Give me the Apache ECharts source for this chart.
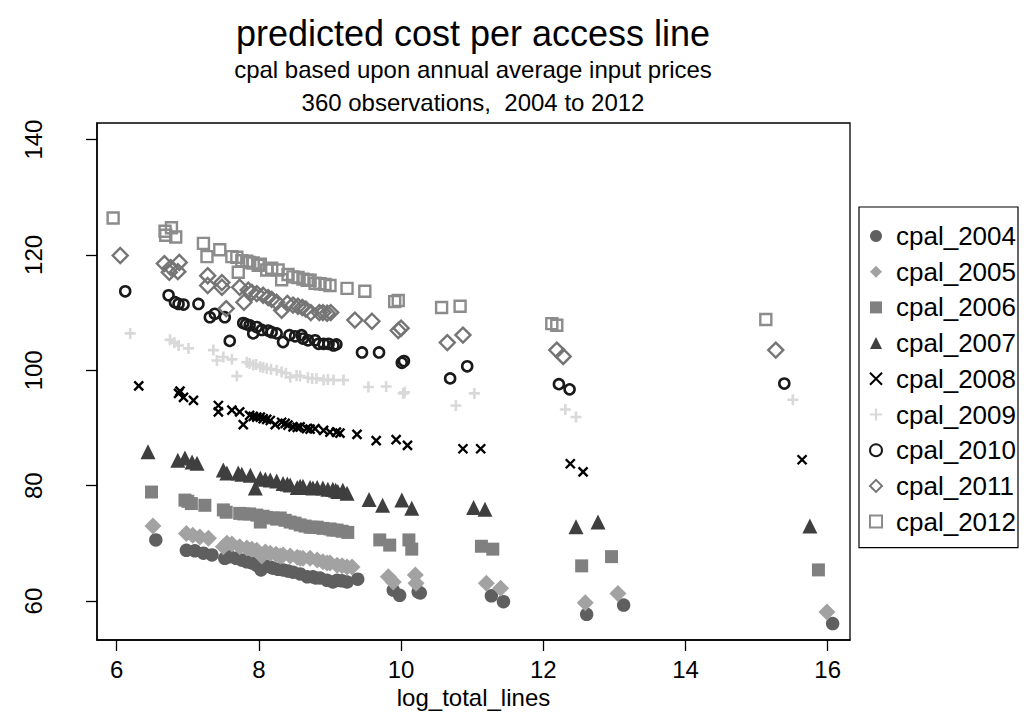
<!DOCTYPE html>
<html>
<head>
<meta charset="utf-8">
<script src="https://cdn.jsdelivr.net/npm/echarts@6/dist/echarts.min.js"></script>
<style>
html,body{margin:0;padding:0;background:#fff;}
#chart{width:1029px;height:717px;}
</style>
</head>
<body>
<div id="chart"></div>
<script>
// ---- Data (x = log_total_lines, y = predicted cost per access line) ----
const seriesNames = ['cpal_2004','cpal_2005','cpal_2006','cpal_2007','cpal_2008','cpal_2009','cpal_2010','cpal_2011','cpal_2012'];
const xTicks = [6, 8, 10, 12, 14, 16];
const yTicks = [60, 80, 100, 120, 140];

const cpal_2004 = [[6.55,70.6],[6.98,68.8],[7.10,68.7],[7.22,68.3],[7.34,68.0],[7.52,67.4],[7.59,67.7],[7.68,67.4],[7.76,67.1],[7.83,66.8],[7.90,66.6],[7.97,66.2],[8.03,65.4],[8.09,66.1],[8.16,65.9],[8.20,65.7],[8.27,65.5],[8.34,65.4],[8.41,65.2],[8.48,65.0],[8.58,64.7],[8.68,64.2],[8.76,64.2],[8.80,64.0],[8.86,64.0],[8.96,63.6],[9.04,63.3],[9.10,63.6],[9.17,63.5],[9.24,63.3],[9.39,63.8],[9.89,61.9],[9.98,61.0],[10.24,61.6],[10.27,61.4],[11.27,60.9],[11.44,59.9],[12.61,57.7],[13.13,59.3],[16.07,56.1]];
const cpal_2005 = [[6.51,73.0],[6.98,71.7],[7.07,71.4],[7.17,71.1],[7.29,70.9],[7.50,69.4],[7.55,70.0],[7.62,69.9],[7.73,69.4],[7.83,69.2],[7.90,69.0],[7.97,68.8],[8.04,67.8],[8.09,68.5],[8.16,68.3],[8.24,68.1],[8.30,67.8],[8.34,68.0],[8.44,67.8],[8.54,67.6],[8.58,67.4],[8.62,67.4],[8.72,67.4],[8.82,67.1],[8.90,66.8],[8.96,66.6],[9.00,66.6],[9.10,66.2],[9.17,66.1],[9.24,65.9],[9.31,65.9],[9.82,64.2],[9.89,63.3],[10.20,64.5],[10.21,63.1],[11.20,63.1],[11.40,62.2],[12.59,59.7],[13.05,61.3],[15.99,58.1]];
const cpal_2006 = [[6.49,78.9],[6.96,77.5],[7.00,77.3],[7.05,76.9],[7.24,76.6],[7.50,75.8],[7.54,75.4],[7.73,75.2],[7.79,75.1],[7.87,75.1],[7.97,74.9],[8.02,73.7],[8.06,74.7],[8.11,74.5],[8.20,74.4],[8.25,74.2],[8.30,74.4],[8.37,74.0],[8.44,73.7],[8.51,73.5],[8.58,73.2],[8.65,73.0],[8.72,72.8],[8.76,72.8],[8.82,72.8],[8.90,72.6],[9.00,72.5],[9.04,72.3],[9.10,72.3],[9.17,72.1],[9.25,71.9],[9.70,70.6],[9.84,69.7],[10.11,70.6],[10.15,69.0],[11.13,69.5],[11.29,69.0],[12.54,66.1],[12.96,67.7],[15.87,65.4]];
const cpal_2007 = [[6.44,85.9],[6.86,84.4],[6.96,84.8],[7.06,84.1],[7.13,83.9],[7.50,82.7],[7.55,82.2],[7.71,82.2],[7.76,82.0],[7.88,81.8],[7.95,79.6],[8.02,81.3],[8.09,81.1],[8.16,81.0],[8.25,80.8],[8.34,80.4],[8.40,80.3],[8.44,80.1],[8.54,79.7],[8.58,79.9],[8.62,79.9],[8.72,79.7],[8.76,79.6],[8.82,79.7],[8.90,79.6],[8.97,79.4],[9.04,79.4],[9.08,79.2],[9.11,79.0],[9.18,79.2],[9.24,78.7],[9.55,77.6],[9.74,76.6],[10.01,77.5],[10.15,76.1],[11.02,76.2],[11.18,75.9],[12.46,72.9],[12.77,73.7],[15.75,73.0]];
const cpal_2008 = [[6.31,97.3],[6.87,96.0],[6.89,96.4],[6.94,95.3],[7.08,94.8],[7.43,93.9],[7.43,92.8],[7.62,93.1],[7.73,92.8],[7.78,90.6],[7.87,92.2],[7.92,92.0],[7.97,91.9],[8.02,91.9],[8.06,91.6],[8.11,91.5],[8.16,91.3],[8.23,90.6],[8.32,91.0],[8.37,90.8],[8.41,90.5],[8.48,90.2],[8.54,90.1],[8.58,90.2],[8.67,89.9],[8.72,89.8],[8.79,89.9],[8.91,89.6],[9.00,89.3],[9.09,89.3],[9.14,89.1],[9.38,88.9],[9.65,87.8],[9.93,88.0],[10.09,87.0],[10.87,86.4],[11.12,86.4],[12.38,83.8],[12.56,82.4],[15.64,84.5]];
const cpal_2009 = [[6.19,106.4],[6.75,105.3],[6.81,104.8],[6.87,104.3],[7.01,103.8],[7.36,103.5],[7.41,101.7],[7.50,102.3],[7.62,101.9],[7.69,99.0],[7.83,101.4],[7.87,101.2],[7.92,100.9],[7.96,101.0],[8.02,100.6],[8.06,100.5],[8.11,100.3],[8.17,100.2],[8.25,100.0],[8.32,99.7],[8.38,99.5],[8.44,98.8],[8.53,99.1],[8.58,99.0],[8.69,98.7],[8.75,98.6],[8.81,98.6],[8.91,98.3],[8.97,98.4],[9.05,98.3],[9.19,98.3],[9.54,97.1],[9.79,97.2],[10.03,96.0],[10.05,96.2],[10.77,93.9],[11.03,96.0],[12.31,93.2],[12.46,91.9],[15.51,94.9]];
const cpal_2010 = [[6.12,113.7],[6.73,113.0],[6.82,111.8],[6.87,111.5],[6.94,111.4],[7.15,111.5],[7.31,109.2],[7.38,109.8],[7.52,109.2],[7.59,105.1],[7.78,108.2],[7.82,108.0],[7.87,107.8],[7.92,106.4],[7.97,107.5],[8.04,107.0],[8.13,106.9],[8.18,106.6],[8.25,106.4],[8.34,104.9],[8.43,106.1],[8.51,105.9],[8.60,106.1],[8.62,105.5],[8.69,105.2],[8.79,105.2],[8.84,104.6],[8.91,104.6],[8.98,104.6],[9.05,104.3],[9.09,104.5],[9.45,103.1],[9.69,103.1],[10.01,101.3],[10.04,101.6],[10.69,98.6],[10.93,100.7],[12.22,97.6],[12.37,96.7],[15.39,97.7]];
const cpal_2011 = [[6.05,119.9],[6.67,118.5],[6.76,117.8],[6.88,118.7],[6.86,117.1],[6.74,117.0],[7.28,116.4],[7.28,114.7],[7.48,115.2],[7.48,114.4],[7.54,110.7],[7.73,114.4],[7.79,111.8],[7.85,113.9],[7.90,113.5],[7.97,113.3],[8.06,113.0],[8.13,112.6],[8.18,112.3],[8.25,111.8],[8.32,110.4],[8.40,111.6],[8.48,111.3],[8.55,111.1],[8.61,110.9],[8.66,110.6],[8.73,110.0],[8.85,110.0],[8.90,110.0],[8.96,109.9],[9.01,110.0],[9.35,108.7],[9.59,108.5],[9.96,106.9],[10.00,107.3],[10.65,104.8],[10.87,106.1],[12.19,103.5],[12.28,102.4],[15.27,103.5]];
const cpal_2012 = [[5.95,126.4],[6.68,124.1],[6.77,124.7],[6.83,123.1],[6.69,123.4],[7.22,122.0],[7.27,119.7],[7.45,120.9],[7.62,119.7],[7.69,119.6],[7.71,117.0],[7.76,119.0],[7.83,118.9],[7.87,118.7],[7.92,118.6],[7.99,118.2],[8.02,118.4],[8.11,117.4],[8.18,117.7],[8.27,117.4],[8.32,115.7],[8.41,116.6],[8.48,116.2],[8.55,116.1],[8.62,115.8],[8.68,115.6],[8.72,115.6],[8.79,115.1],[8.86,115.0],[8.93,114.9],[9.00,114.7],[9.24,114.2],[9.49,113.7],[9.91,111.9],[9.96,112.1],[10.57,110.9],[10.83,111.1],[12.12,108.1],[12.19,107.8],[15.13,108.8]];

const seriesData = [cpal_2004, cpal_2005, cpal_2006, cpal_2007, cpal_2008, cpal_2009, cpal_2010, cpal_2011, cpal_2012];

// ---- Marker styles ----
const CROSS = 'path://M0,0L10,10M10,0L0,10';
const PLUS = 'path://M5,0L5,10M0,5L10,5';
const styles = [
  {symbol:'circle',   size:13.5, item:{color:'#5f5f5f'}},
  {symbol:'diamond',  size:17, item:{color:'#a2a2a2'}},
  {symbol:'rect',     size:13, item:{color:'#808080'}},
  {symbol:'triangle', size:15, item:{color:'#3f3f3f'}},
  {symbol:CROSS,      size:9,  item:{color:'rgba(0,0,0,0)', borderColor:'#000000', borderWidth:2.4}},
  {symbol:PLUS,       size:11, item:{color:'rgba(0,0,0,0)', borderColor:'#d9d9d9', borderWidth:2.6}},
  {symbol:'circle',   size:10, item:{color:'rgba(0,0,0,0)', borderColor:'#1a1a1a', borderWidth:2.6}},
  {symbol:'diamond',  size:15, item:{color:'rgba(0,0,0,0)', borderColor:'#757575', borderWidth:2.4}},
  {symbol:'rect',     size:11, item:{color:'rgba(0,0,0,0)', borderColor:'#8c8c8c', borderWidth:2.4}}
];

const FONT = '"Liberation Sans", Arial, Helvetica, sans-serif';
const chart = echarts.init(document.getElementById('chart'), null, {renderer:'svg'});

const series = seriesNames.map((name, i) => ({
  name: name,
  type: 'scatter',
  data: seriesData[i],
  symbol: styles[i].symbol,
  symbolSize: styles[i].size,
  itemStyle: Object.assign({opacity:1}, styles[i].item),
  emphasis: {disabled:true},
  animation: false
}));

chart.setOption({
  backgroundColor: '#ffffff',
  animation: false,
  textStyle: {fontFamily: FONT},
  grid: {left:97, right:179, top:123, bottom:77, show:true, borderColor:'#000', borderWidth:1.3, backgroundColor:'#fff'},
  xAxis: {
    type:'value', min:5.723, max:16.314,
    name:'log_total_lines', nameLocation:'middle', nameGap:36,
    nameTextStyle:{fontSize:24, color:'#000', fontFamily:FONT},
    axisLine:{show:true, onZero:false, lineStyle:{color:'#000', width:1.5}},
    axisTick:{show:true, length:11, lineStyle:{color:'#000', width:1.3}, customValues:xTicks},
    axisLabel:{fontSize:24, color:'#000', margin:17, fontFamily:FONT, customValues:xTicks},
    splitLine:{show:false}
  },
  yAxis: {
    type:'value', min:53.25, max:142.87,
    axisLine:{show:true, onZero:false, lineStyle:{color:'#000', width:1.5}},
    axisTick:{show:true, length:11, lineStyle:{color:'#000', width:1.3}, customValues:yTicks},
    axisLabel:{fontSize:24, color:'#000', rotate:90, margin:52, fontFamily:FONT, customValues:yTicks},
    splitLine:{show:false}
  },
  legend: {
    orient:'vertical', left:859, top:207,
    padding:[16,2,13,10], itemGap:9.7, itemWidth:12, itemHeight:12,
    borderColor:'#000', borderWidth:1.2, backgroundColor:'#fff',
    textStyle:{fontSize:26, color:'#000', fontFamily:FONT, lineHeight:26, padding:[0,0,0,9]},
    selectedMode:false,
    data: seriesNames
  },
  graphic: [
    {type:'text', x:473, y:33, style:{text:'predicted cost per access line', font:'36px ' + FONT, fill:'#000', textAlign:'center', textVerticalAlign:'middle', align:'center', verticalAlign:'middle'}},
    {type:'text', x:473, y:69, style:{text:'cpal based upon annual average input prices', font:'24px ' + FONT, fill:'#000', textAlign:'center', textVerticalAlign:'middle', align:'center', verticalAlign:'middle'}},
    {type:'text', x:473, y:102, style:{text:'360 observations,  2004 to 2012', font:'24px ' + FONT, fill:'#000', textAlign:'center', textVerticalAlign:'middle', align:'center', verticalAlign:'middle'}}
  ],
  series: series
});
</script>
</body>
</html>
